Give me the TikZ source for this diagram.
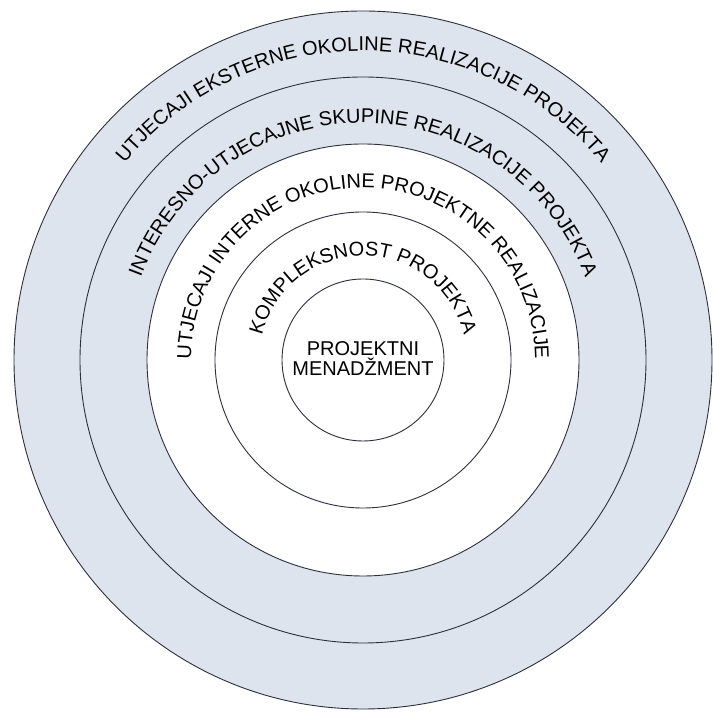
\documentclass[tikz,border=0pt]{standalone}
\usepackage{fontspec}
\setmainfont{Liberation Sans}
\usetikzlibrary{decorations.text}
\definecolor{ringfill}{RGB}{221,228,238}
\definecolor{ringline}{RGB}{45,48,60}
\begin{document}
\begin{tikzpicture}[x=1pt,y=1pt,
  ring/.style={draw=ringline, line width=0.9pt},
  arctext/.style={decorate, decoration={text along path, text align=center, text={|\fontsize{20}{24}\selectfont|#1}}}]
\useasboundingbox (0,0) rectangle (713,712);
\fill[white] (0,0) rectangle (713,712);
\coordinate (c) at (363,352);
\fill[ringfill] (c) circle (349);
\fill[white] (c) circle (216);
\foreach \r in {349,283,216,148,81} \draw[ring] (c) circle (\r);
\path[arctext={UTJECAJI EKSTERNE OKOLINE REALIZACIJE PROJEKTA}] ([shift={(200:309)}]c) arc[start angle=200, end angle=-20, radius=309];
\path[arctext={INTERESNO-UTJECAJNE SKUPINE REALIZACIJE PROJEKTA}] ([shift={(200:237)}]c) arc[start angle=200, end angle=-20, radius=237];
\path[arctext={UTJECAJI INTERNE OKOLINE PROJEKTNE REALIZACIJE}] ([shift={(200:172)}]c) arc[start angle=200, end angle=-20, radius=172];
\path[arctext={KOMPLEKSNOST PROJEKTA}] ([shift={(200:104)}]c) arc[start angle=200, end angle=-20, radius=104];
\node[align=center, font=\fontsize{20}{20}\selectfont, inner sep=0pt] (pm) at ([yshift=1]c) {PROJEKTNI\\MENADŽMENT};
\end{tikzpicture}
\end{document}
